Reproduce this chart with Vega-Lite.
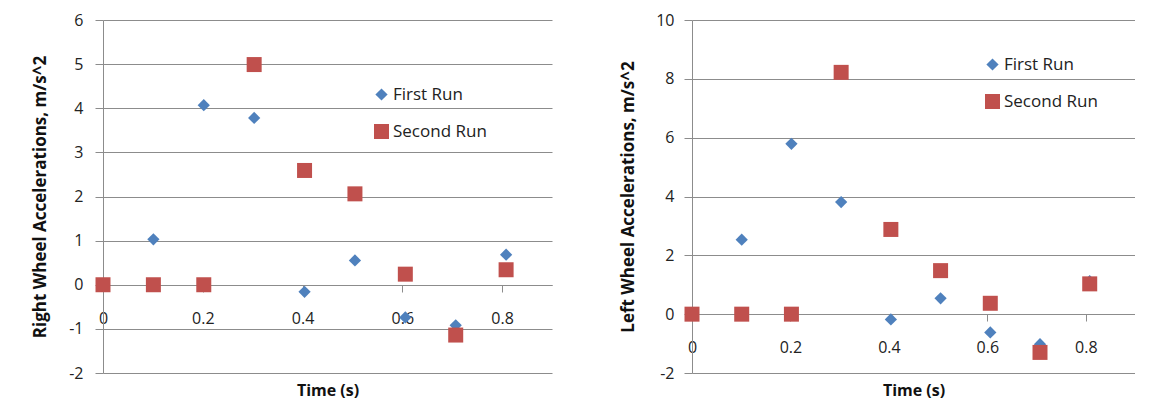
{
  "$schema": "https://vega.github.io/schema/vega-lite/v6.json",
  "background": "white",
  "padding": {"left": 31, "top": 12, "right": 0, "bottom": 20},
  "datasets": {
    "right_wheel": [
      {"time": 0, "accel": 0, "run": "First Run"},
      {"time": 0.101, "accel": 1.03, "run": "First Run"},
      {"time": 0.202, "accel": 4.07, "run": "First Run"},
      {"time": 0.303, "accel": 3.78, "run": "First Run"},
      {"time": 0.404, "accel": -0.16, "run": "First Run"},
      {"time": 0.505, "accel": 0.55, "run": "First Run"},
      {"time": 0.606, "accel": -0.74, "run": "First Run"},
      {"time": 0.707, "accel": -0.92, "run": "First Run"},
      {"time": 0.808, "accel": 0.68, "run": "First Run"},
      {"time": 0, "accel": 0, "run": "Second Run"},
      {"time": 0.101, "accel": 0, "run": "Second Run"},
      {"time": 0.202, "accel": 0, "run": "Second Run"},
      {"time": 0.303, "accel": 4.99, "run": "Second Run"},
      {"time": 0.404, "accel": 2.59, "run": "Second Run"},
      {"time": 0.505, "accel": 2.06, "run": "Second Run"},
      {"time": 0.606, "accel": 0.24, "run": "Second Run"},
      {"time": 0.707, "accel": -1.14, "run": "Second Run"},
      {"time": 0.808, "accel": 0.34, "run": "Second Run"}
    ],
    "left_wheel": [
      {"time": 0, "accel": 0, "run": "First Run"},
      {"time": 0.101, "accel": 2.53, "run": "First Run"},
      {"time": 0.202, "accel": 5.79, "run": "First Run"},
      {"time": 0.303, "accel": 3.81, "run": "First Run"},
      {"time": 0.404, "accel": -0.18, "run": "First Run"},
      {"time": 0.505, "accel": 0.54, "run": "First Run"},
      {"time": 0.606, "accel": -0.62, "run": "First Run"},
      {"time": 0.707, "accel": -1.02, "run": "First Run"},
      {"time": 0.808, "accel": 1.12, "run": "First Run"},
      {"time": 0, "accel": 0, "run": "Second Run"},
      {"time": 0.101, "accel": 0, "run": "Second Run"},
      {"time": 0.202, "accel": 0, "run": "Second Run"},
      {"time": 0.303, "accel": 8.22, "run": "Second Run"},
      {"time": 0.404, "accel": 2.88, "run": "Second Run"},
      {"time": 0.505, "accel": 1.48, "run": "Second Run"},
      {"time": 0.606, "accel": 0.37, "run": "Second Run"},
      {"time": 0.707, "accel": -1.3, "run": "Second Run"},
      {"time": 0.808, "accel": 1.03, "run": "Second Run"}
    ]
  },
  "bounds": "flush",
  "spacing": 140,
  "hconcat": [
    {
      "width": 449,
      "height": 353,
      "data": {"name": "right_wheel"},
      "mark": {"type": "point", "filled": true, "opacity": 1},
      "encoding": {
        "x": {
          "field": "time", "type": "quantitative",
          "scale": {"domain": [0, 0.9], "nice": false, "zero": false},
          "axis": {
            "values": [0, 0.2, 0.4, 0.6, 0.8], "format": "~g", "grid": false, "labelFlush": false,
            "offset": -88, "tickSize": 7, "labelPadding": 26, "labelBaseline": "middle",
            "title": "Time (s)", "titleY": 105, "titleBaseline": "middle", "titleFontSize": 16
          }
        },
        "y": {
          "field": "accel", "type": "quantitative",
          "scale": {"domain": [-2, 6], "nice": false, "zero": false},
          "axis": {
            "values": [-2, -1, 0, 1, 2, 3, 4, 5, 6], "labelFlush": false,
            "labelExpr": "datum.value < 0 ? '-' + abs(datum.value) : '' + datum.value",
            "tickSize": 8, "labelPadding": 12,
            "title": "Right Wheel Accelerations, m/s^2",
            "titleX": -63, "titleY": 176.5, "titleBaseline": "middle", "titleAlign": "center"
          }
        },
        "color": {
          "field": "run", "type": "nominal",
          "scale": {"domain": ["First Run", "Second Run"], "range": ["#4F81BD", "#C0504D"]},
          "legend": {"title": null, "orient": "none", "legendX": 270, "legendY": 66}
        },
        "shape": {
          "field": "run", "type": "nominal",
          "scale": {"domain": ["First Run", "Second Run"], "range": ["diamond", "square"]},
          "legend": {"title": null, "orient": "none", "legendX": 270, "legendY": 66}
        },
        "size": {
          "field": "run", "type": "nominal",
          "scale": {"domain": ["First Run", "Second Run"], "range": [150, 225]},
          "legend": {"title": null, "orient": "none", "legendX": 270, "legendY": 66}
        }
      }
    },
    {
      "width": 443,
      "height": 353,
      "data": {"name": "left_wheel"},
      "mark": {"type": "point", "filled": true, "opacity": 1},
      "encoding": {
        "x": {
          "field": "time", "type": "quantitative",
          "scale": {"domain": [0, 0.9], "nice": false, "zero": false},
          "axis": {
            "values": [0, 0.2, 0.4, 0.6, 0.8], "format": "~g", "grid": false, "labelFlush": false,
            "offset": -59, "tickSize": 7, "labelPadding": 26, "labelBaseline": "middle",
            "title": "Time (s)", "titleY": 76, "titleBaseline": "middle", "titleFontSize": 16
          }
        },
        "y": {
          "field": "accel", "type": "quantitative",
          "scale": {"domain": [-2, 10], "nice": false, "zero": false},
          "axis": {
            "values": [-2, 0, 2, 4, 6, 8, 10], "labelFlush": false,
            "labelExpr": "datum.value < 0 ? '-' + abs(datum.value) : '' + datum.value",
            "tickSize": 8, "labelPadding": 10,
            "title": "Left Wheel Accelerations, m/s^2",
            "titleX": -64, "titleY": 176.5, "titleBaseline": "middle", "titleAlign": "center"
          }
        },
        "color": {
          "field": "run", "type": "nominal",
          "scale": {"domain": ["First Run", "Second Run"], "range": ["#4F81BD", "#C0504D"]},
          "legend": {"title": null, "orient": "none", "legendX": 292, "legendY": 36}
        },
        "shape": {
          "field": "run", "type": "nominal",
          "scale": {"domain": ["First Run", "Second Run"], "range": ["diamond", "square"]},
          "legend": {"title": null, "orient": "none", "legendX": 292, "legendY": 36}
        },
        "size": {
          "field": "run", "type": "nominal",
          "scale": {"domain": ["First Run", "Second Run"], "range": [150, 225]},
          "legend": {"title": null, "orient": "none", "legendX": 292, "legendY": 36}
        }
      }
    }
  ],
  "resolve": {
    "scale": {"color": "independent", "shape": "independent", "size": "independent"},
    "legend": {"color": "independent", "shape": "independent", "size": "independent"}
  },
  "config": {
    "view": {"stroke": null},
    "font": "Open Sans",
    "axis": {
      "labelFont": "Open Sans", "labelFontSize": 16, "labelColor": "#222222",
      "titleFont": "Open Sans", "titleFontSize": 17, "titleFontWeight": "bold", "titleColor": "#111111",
      "gridColor": "#8c8c8c", "gridOpacity": 1, "gridWidth": 1,
      "domainColor": "#8c8c8c", "domainWidth": 1,
      "tickColor": "#8c8c8c", "tickWidth": 1
    },
    "legend": {
      "labelFont": "Open Sans", "labelFontSize": 17, "labelColor": "#222222",
      "labelOffset": 3, "rowPadding": 19, "padding": 0, "symbolStrokeWidth": 0, "symbolOpacity": 1
    }
  }
}
